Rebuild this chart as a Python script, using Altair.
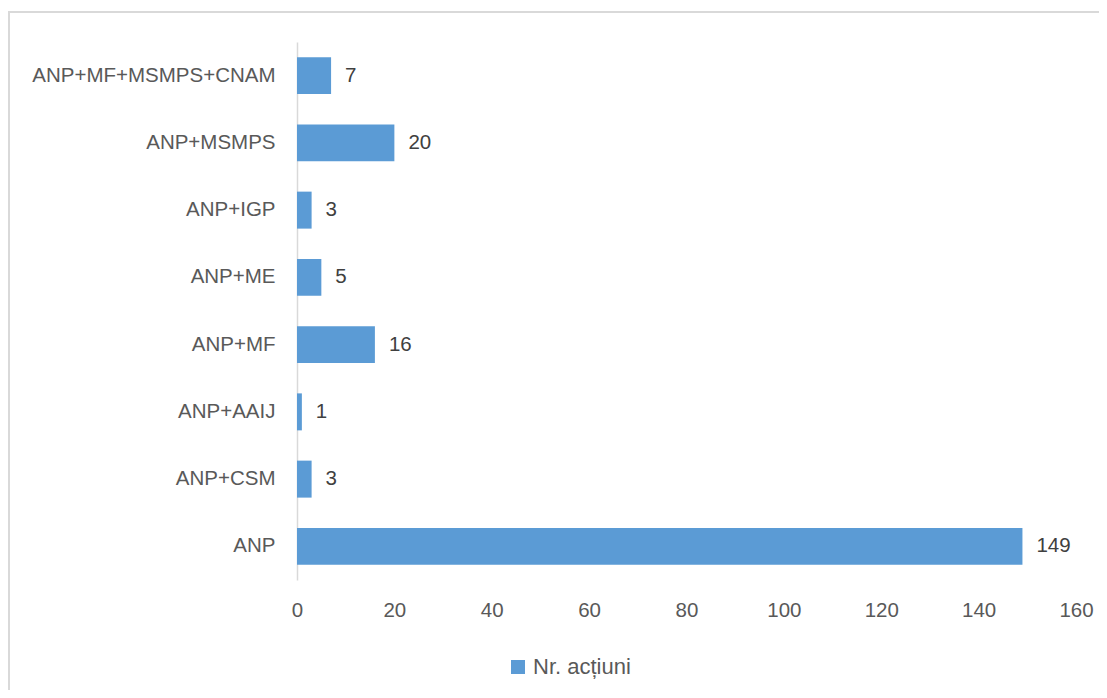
import altair as alt
import pandas as pd

categories = ["ANP+MF+MSMPS+CNAM", "ANP+MSMPS", "ANP+IGP", "ANP+ME", "ANP+MF", "ANP+AAIJ", "ANP+CSM", "ANP"]
values = [7, 20, 3, 5, 16, 1, 3, 149]
series_name = "Nr. acțiuni"
x_ticks = [0, 20, 40, 60, 80, 100, 120, 140, 160]

df = pd.DataFrame({"cat": categories, "val": values, "series": [series_name] * len(categories)})

FONT = "Liberation Sans"
FS = 20.5
BLUE = "#5B9BD5"

y_enc = alt.Y("cat:N", sort=categories, title=None,
              scale=alt.Scale(paddingInner=0.45, paddingOuter=0.225),
              axis=alt.Axis(domainColor="#D9D9D9", domainWidth=1.5, ticks=False,
                            labelPadding=22, labelFontSize=FS, labelColor="#595959",
                            labelFont=FONT, labelLimit=400))
x_enc = alt.X("val:Q", title=None,
              scale=alt.Scale(domain=[0, 160], nice=False),
              axis=alt.Axis(values=x_ticks, grid=False, domain=False, ticks=False,
                            labelFlush=False,
                            labelPadding=20, labelFontSize=FS, labelColor="#595959",
                            labelFont=FONT))

bars = alt.Chart(df).mark_bar().encode(
    y=y_enc, x=x_enc,
    color=alt.Color("series:N", title=None,
                    scale=alt.Scale(domain=[series_name], range=[BLUE]),
                    legend=alt.Legend(orient="none", legendX=210, legendY=614,
                                      symbolType="square", symbolSize=196,
                                      symbolStrokeWidth=0,
                                      labelFontSize=22, labelColor="#595959",
                                      labelFont=FONT, padding=0, labelOffset=4)),
)

labels = alt.Chart(df).mark_text(align="left", baseline="middle", dx=14,
                                  fontSize=FS, font=FONT, color="#404040").encode(
    y=alt.Y("cat:N", sort=categories), x=alt.X("val:Q"), text=alt.Text("val:Q"))

frame = alt.Chart(pd.DataFrame({"a": [0]})).mark_rect(
    fill=None, stroke="#D9D9D9", strokeWidth=2, clip=False).encode(
    x=alt.value(-288), x2=alt.value(900), y=alt.value(-30), y2=alt.value(700))

chart = alt.layer(frame, bars, labels).properties(
    width=779, height=538,
    autosize=alt.AutoSizeParams(type="none"),
    padding={"left": 289, "top": 34, "right": 23, "bottom": 110},
).configure_view(stroke=None)

chart.save("out.html", embed_options={"renderer": "svg", "actions": False})
